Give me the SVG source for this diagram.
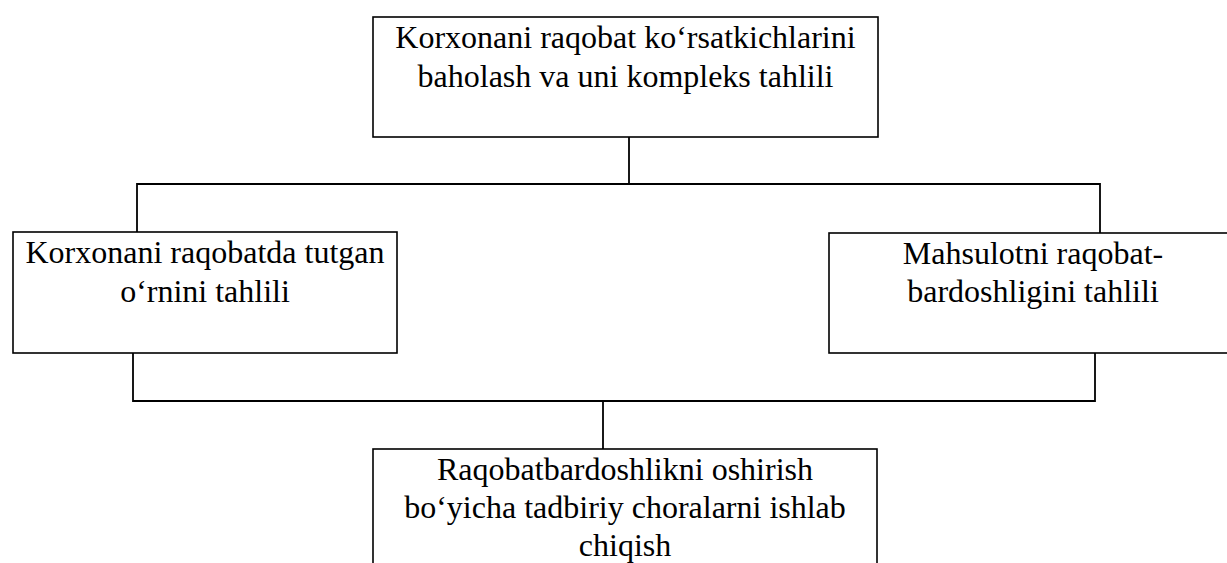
<svg xmlns="http://www.w3.org/2000/svg" width="1227" height="563" viewBox="0 0 1227 563">
<style>
.box{fill:#fff;stroke:#000;stroke-width:1.6}
.ln{fill:none;stroke:#000;stroke-width:1.8}
.t{font-size:32px;fill:#000;text-anchor:middle}
</style>
<rect width="1227" height="563" fill="#fff"/>
<g id="connectors">
<polyline class="ln" points="629,137 629,184"/>
<polyline class="ln" points="137,232 137,184 1100,184 1100,233"/>
<polyline class="ln" points="133,353 133,401 1095,401 1095,353"/>
<polyline class="ln" points="603,401 603,449"/>
</g>
<g font-family="Liberation Serif, DejaVu Serif, serif">
<g id="node-top">
<rect class="box" x="373" y="17" width="505" height="120"/>
<text class="t" x="625.5" y="48">Korxonani raqobat ko‘rsatkichlarini</text>
<text class="t" x="625.5" y="87">baholash va uni kompleks tahlili</text>
</g>
<g id="node-left">
<rect class="box" x="13" y="232" width="384" height="121"/>
<text class="t" x="205" y="263">Korxonani raqobatda tutgan</text>
<text class="t" x="205" y="302">o‘rnini tahlili</text>
</g>
<g id="node-right">
<rect class="box" x="829" y="233" width="408" height="120"/>
<text class="t" x="1033" y="264">Mahsulotni raqobat-</text>
<text class="t" x="1033" y="302">bardoshligini tahlili</text>
</g>
<g id="node-bottom">
<rect class="box" x="373" y="449" width="504" height="130"/>
<text class="t" x="625" y="480">Raqobatbardoshlikni oshirish</text>
<text class="t" x="625" y="518">bo‘yicha tadbiriy choralarni ishlab</text>
<text class="t" x="625" y="556">chiqish</text>
</g>
</g>
</svg>
